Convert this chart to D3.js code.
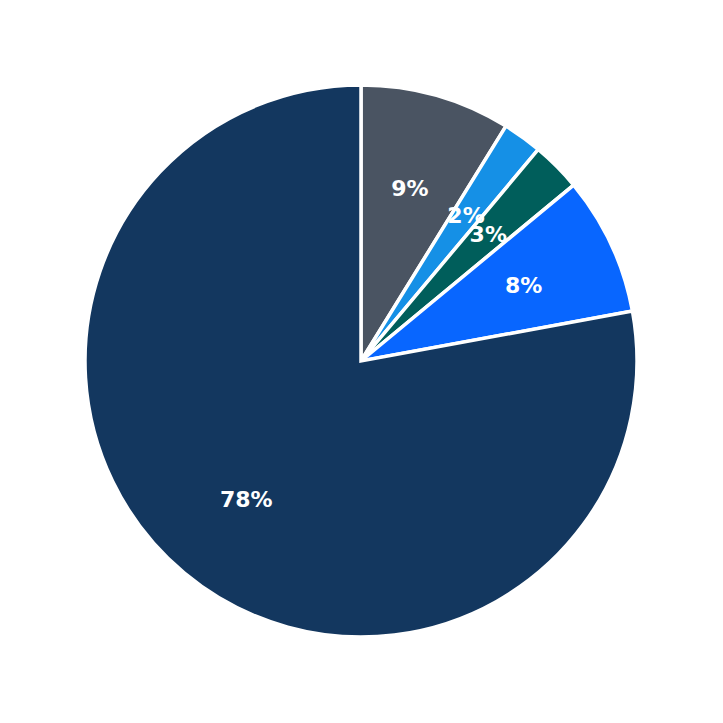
<!DOCTYPE html>
<html>
<head>
<meta charset="utf-8">
<script src="https://cdn.jsdelivr.net/npm/d3@7"></script>
<style>
  html, body { margin: 0; padding: 0; background: #fff; }
</style>
</head>
<body>
<svg id="chart"></svg>
<script>
const categories = ['A', 'B', 'C', 'D', 'E'];
const values = [8.8, 2.3, 2.9, 8.1, 77.9];
const labels = ['9%', '2%', '3%', '8%', '78%'];
const colors = ['#4a5462', '#1590e6', '#005e5b', '#0866ff', '#13375f'];

const width = 723, height = 723;
const cx = 361, cy = 361, radius = 276;

const svg = d3.select('#chart')
    .attr('width', width)
    .attr('height', height);

const g = svg.append('g').attr('transform', `translate(${cx},${cy})`);

const pie = d3.pie().sort(null).value(d => d.value);
const data = pie(categories.map((c, i) => ({ cat: c, value: values[i], label: labels[i], color: colors[i] })));

const arc = d3.arc().innerRadius(0).outerRadius(radius);
const labelArc = d3.arc().innerRadius(radius * 0.65).outerRadius(radius * 0.65);

g.selectAll('path.slice')
    .data(data)
    .enter().append('path')
    .attr('class', 'slice')
    .attr('d', arc)
    .attr('fill', d => d.data.color)
    .attr('stroke', '#fff')
    .attr('stroke-width', 3.5)
    .attr('stroke-linejoin', 'miter');

g.selectAll('text.pct')
    .data(data)
    .enter().append('text')
    .attr('class', 'pct')
    .attr('transform', d => `translate(${labelArc.centroid(d)})`)
    .attr('text-anchor', 'middle')
    .attr('dy', '0.35em')
    .attr('fill', '#fff')
    .attr('font-family', 'DejaVu Sans, sans-serif')
    .attr('font-weight', 'bold')
    .attr('font-size', 22)
    .text(d => d.data.label);
</script>
</body>
</html>
